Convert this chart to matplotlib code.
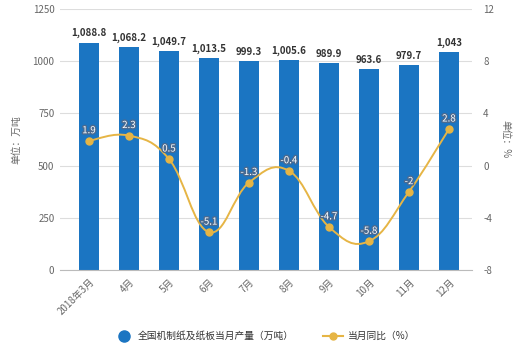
import numpy as np
import matplotlib
matplotlib.use('Agg')
import matplotlib.pyplot as plt
from matplotlib.path import Path
from matplotlib.patches import PathPatch
from matplotlib.lines import Line2D
import matplotlib.patheffects as pe

plt.rcParams['font.family'] = ['Noto Sans CJK SC', 'DejaVu Sans']

months = ['2018年3月', '4月', '5月', '6月', '7月', '8月', '9月', '10月', '11月', '12月']
output = [1088.8, 1068.2, 1049.7, 1013.5, 999.3, 1005.6, 989.9, 963.6, 979.7, 1043]
yoy = [1.9, 2.3, 0.5, -5.1, -1.3, -0.4, -4.7, -5.8, -2, 2.8]
left_ticks = [0, 250, 500, 750, 1000, 1250]
right_ticks = [-8, -4, 0, 4, 8, 12]

bar_color = '#1b75c2'
line_color = '#e6b545'
txt = '#666666'

fig = plt.figure(figsize=(5.29, 3.48), dpi=100)
ax = fig.add_axes([60 / 529, 1 - 270 / 348, 412 / 529, 261 / 348])
ax2 = ax.twinx()

x = np.arange(len(months))
ax.bar(x, output, width=0.48, color=bar_color, zorder=2)
for xi, v in zip(x, output):
    ax.annotate(format(v, ',g'), (xi, v), xytext=(0, 3), textcoords='offset points',
                ha='center', va='bottom', fontsize=7, color='#333333', fontweight='bold')

ax.set_xlim(-0.725, 9.575)
ax.set_ylim(0, 1250)
ax.set_yticks(left_ticks)
ax.set_yticklabels([str(t) for t in left_ticks])
ax.grid(axis='y', color='#dddddd', linewidth=0.8, zorder=0)
ax.set_axisbelow(True)
ax.set_xticks(x)
ax.set_xticklabels(months, rotation=45, ha='right', rotation_mode='anchor')
ax.tick_params(axis='both', length=0, labelsize=7, colors=txt, pad=4)
ax.tick_params(axis='x', pad=5)
for s in ['top', 'right', 'left']:
    ax.spines[s].set_visible(False)
ax.spines['bottom'].set_color('#bbbbbb')
ax.set_ylabel('单位：万吨', fontsize=7, color=txt, labelpad=8)

ax2.set_ylim(-8, 12)
ax2.set_yticks(right_ticks)
ax2.set_yticklabels([str(t) for t in right_ticks])
ax2.tick_params(axis='y', length=0, labelsize=7, colors=txt, pad=8)
for s in ax2.spines.values():
    s.set_visible(False)
ax2.set_ylabel('单位：%', fontsize=7, color=txt, rotation=270, labelpad=12)

# smooth curve through the points, drawn as cubic bezier segments
pts = np.column_stack([x, yoy]).astype(float)
k = 0.2
verts = [tuple(pts[0])]
codes = [Path.MOVETO]
for i in range(len(pts) - 1):
    p0 = pts[i - 1] if i > 0 else pts[i]
    p1 = pts[i]
    p2 = pts[i + 1]
    p3 = pts[i + 2] if i + 2 < len(pts) else pts[i + 1]
    c1 = p1 + (p2 - p0) * k
    c2 = p2 - (p3 - p1) * k
    verts += [tuple(c1), tuple(c2), tuple(p2)]
    codes += [Path.CURVE4] * 3
ax2.add_patch(PathPatch(Path(verts, codes), fill=False, edgecolor=line_color, lw=1.4, zorder=3))
ax2.plot(x, yoy, 'o', color=line_color, markersize=5, zorder=4)
for xi, v in zip(x, yoy):
    ax2.annotate(f'{v:g}', (xi, v), xytext=(0, 4), textcoords='offset points',
                 ha='center', va='bottom', fontsize=7, color='white', zorder=5,
                 path_effects=[pe.withStroke(linewidth=2, foreground='#4a6a90')])

handles = [
    Line2D([], [], marker='o', linestyle='none', color=bar_color, markersize=8),
    Line2D([], [], marker='o', color=line_color, lw=1.5, markersize=5),
]
fig.legend(handles, ['全国机制纸及纸板当月产量（万吨）', '当月同比（%）'],
           loc='center', bbox_to_anchor=(0.5, 1 - 336 / 348), ncol=2, frameon=False,
           fontsize=7, labelcolor='#333333', columnspacing=3, handletextpad=0.5)

fig.savefig('out.png', dpi=100)
